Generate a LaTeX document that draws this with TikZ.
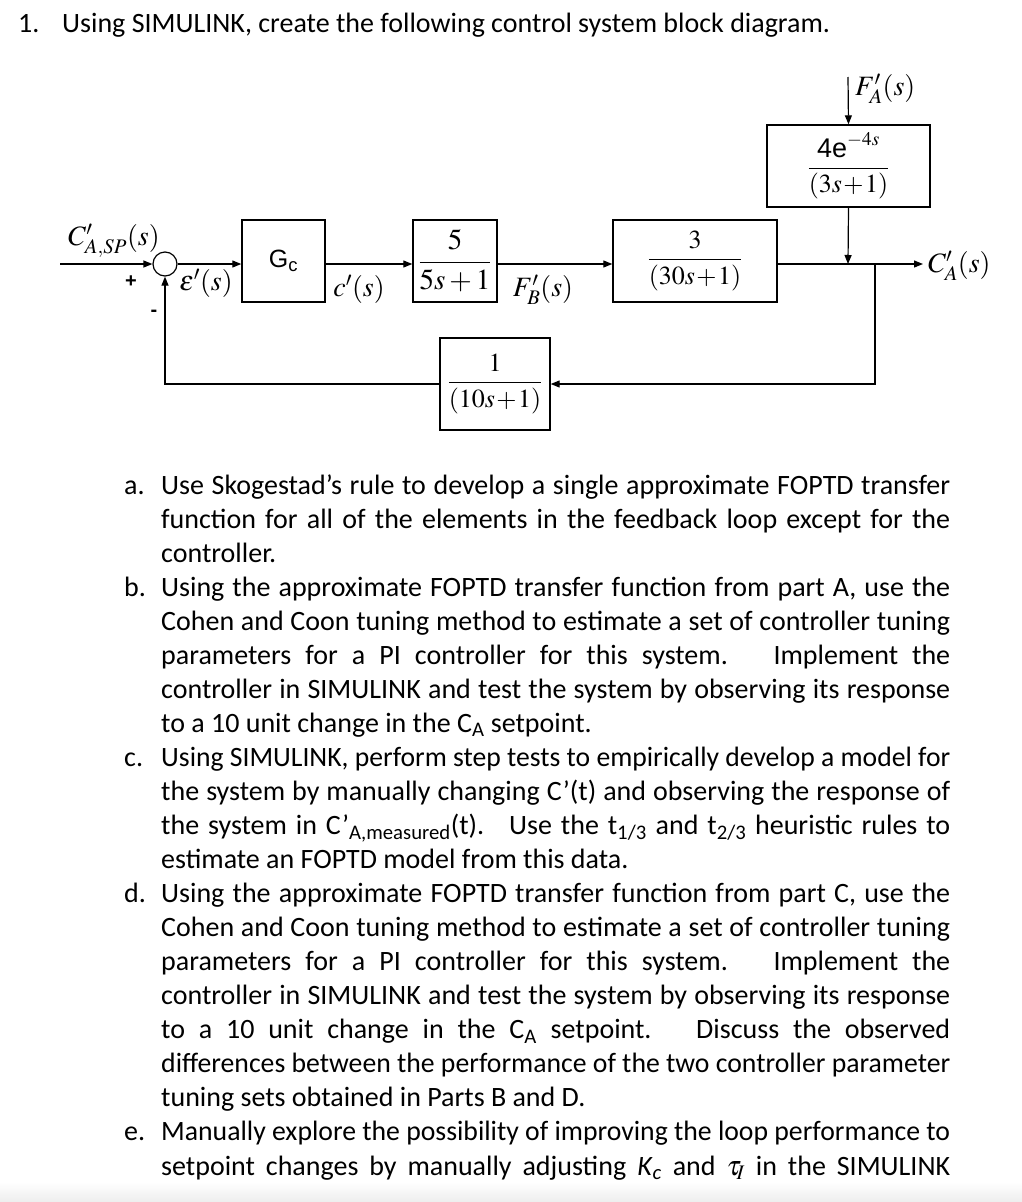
\documentclass[tikz,border=0pt]{standalone}
\usepackage{graphicx}
\usepackage{mathptmx}
\usepackage[no-math]{fontspec}
\setmainfont{Carlito}
\newfontfamily\arialf{Liberation Sans}
\usetikzlibrary{arrows.meta,calc}
\newsavebox\lnbox
\newcommand\jline[1]{\sbox\lnbox{#1}\ifdim\wd\lnbox>789pt\relax\resizebox{789pt}{\height}{\usebox\lnbox}\else\makebox[789pt][s]{#1}\fi}
\newcommand\nline[1]{\sbox\lnbox{#1}\ifdim\wd\lnbox>789pt\relax\resizebox{789pt}{\height}{\usebox\lnbox}\else\usebox\lnbox\fi}
\newcommand\blkfrac[2]{\fontsize{26}{30}\selectfont$\medmuskip=1mu\relax\displaystyle\frac{#1}{#2}$}
\begin{document}
\begin{tikzpicture}[x=1pt,y=-1pt,
  blk/.style={draw, line width=1.4pt, inner sep=0pt, font=\fontsize{29}{33}\selectfont},
  wire/.style={line width=1.2pt},
  arr/.style={wire, -{Triangle[length=9pt,width=7pt]}},
  lbl/.style={inner sep=0pt, font=\fontsize{28}{32}\selectfont},
  sgn/.style={inner sep=0pt, font=\arialf\bfseries\fontsize{20}{24}\selectfont},
  txt/.style={inner sep=0pt, anchor=base west, font=\fontsize{28}{34}\selectfont}]
\useasboundingbox (0,0) rectangle (1022,1202);
\shade[top color=white, bottom color=black!7] (0,1182) rectangle (1022,1202);

% ---- blocks
\node[draw, circle, line width=1.2pt, minimum size=24pt, inner sep=0pt] (sum) at (165,264) {};
\node[blk, minimum width=83pt, minimum height=82pt] (gc) at (283.5,261) {\arialf\fontsize{25}{28}\selectfont G\textsubscript{c}};
\node[blk, minimum width=84pt, minimum height=82pt] (g1) at (455,261) {$\displaystyle\frac{5}{5s+1}$};
\node[blk, minimum width=164pt, minimum height=82pt] (g2) at (695,261) {\blkfrac{3}{(30s+1)}};
\node[blk, minimum width=163pt, minimum height=82pt] (d) at (848.5,166) {\blkfrac{\mbox{\arialf\fontsize{27}{30}\selectfont 4e}^{-4s}}{(3s+1)}};
\node[blk, minimum width=110pt, minimum height=92pt] (h) at (495,384) {\blkfrac{1}{(10s+1)}};

% ---- labels
\node[lbl] (sp) at (114,241) {$C'_{A,SP}(s)$};
\node[lbl] (eps) at (206,283) {$\varepsilon'(s)$};
\node[lbl] (cl) at (359,289) {$c'(s)$};
\node[lbl] (fb) at (543,290) {$F'_B(s)$};
\node[lbl, anchor=west] (fa) at (855,89) {$F'_A(s)$};
\node[lbl, anchor=west] (ca) at (928,266) {$C'_A(s)$};
\node[sgn] (plus) at (131,282) {+};
\node[sgn] (minus) at (154,313) {-};

% ---- connectors
\coordinate (in) at (60,264);
\coordinate (j1) at (848,264);
\coordinate (j2) at (875,264);
\coordinate (out) at (923,264);
\coordinate (fin) at (848,77);
\draw[arr] (in) -- (sum.west);
\draw[arr] (sum.east) -- (sum.east -| gc.west);
\draw[arr] (gc.east |- sum) -- (g1.west |- sum);
\draw[arr] (g1.east |- sum) -- (g2.west |- sum);
\draw[arr] (g2.east |- sum) -- (out);
\draw[arr] (fin) -- (d.north);
\draw[arr] (d.south) -- (j1);
\draw[arr] (j2) -- (j2 |- h.east) -- (h.east);
\draw[arr] (h.west) -- (h.west -| sum) -- (sum.south);

% ---- text
\node[txt] (t1n) at (18,32) {1.};
\node[txt] (t1) at (62,32) {Using SIMULINK, create the following control system block diagram.};

\node[txt] (la) at (124,494) {a.};
\node[txt] (a1) at (161,494) {\jline{Use Skogestad’s rule to develop a single approximate FOPTD transfer}};
\node[txt] (a2) at (161,528.05) {\jline{function for all of the elements in the feedback loop except for the}};
\node[txt] (a3) at (161,562.1) {\nline{controller.}};

\node[txt] (lb) at (124,596.15) {b.};
\node[txt] (b1) at (161,596.15) {\jline{Using the approximate FOPTD transfer function from part A, use the}};
\node[txt] (b2) at (161,630.2) {\jline{Cohen and Coon tuning method to estimate a set of controller tuning}};
\node[txt] (b3) at (161,664.25) {\jline{parameters for a PI controller for this system.~ Implement the}};
\node[txt] (b4) at (161,698.3) {\jline{controller in SIMULINK and test the system by observing its response}};
\node[txt] (b5) at (161,732.35) {\nline{to a 10 unit change in the C\textsubscript{A} setpoint.}};

\node[txt] (lc) at (124,766.4) {c.};
\node[txt] (c1) at (161,766.4) {\jline{Using SIMULINK, perform step tests to empirically develop a model for}};
\node[txt] (c2) at (161,800.45) {\jline{the system by manually changing C’(t) and observing the response of}};
\node[txt] (c3) at (161,834.5) {\jline{the system in C’\textsubscript{A,measured}(t).~ Use the t\textsubscript{1/3} and t\textsubscript{2/3} heuristic rules to}};
\node[txt] (c4) at (161,868.55) {\nline{estimate an FOPTD model from this data.}};

\node[txt] (ld) at (124,902.6) {d.};
\node[txt] (d1) at (161,902.6) {\jline{Using the approximate FOPTD transfer function from part C, use the}};
\node[txt] (d2) at (161,936.65) {\jline{Cohen and Coon tuning method to estimate a set of controller tuning}};
\node[txt] (d3) at (161,970.7) {\jline{parameters for a PI controller for this system.~ Implement the}};
\node[txt] (d4) at (161,1004.75) {\jline{controller in SIMULINK and test the system by observing its response}};
\node[txt] (d5) at (161,1038.8) {\jline{to a 10 unit change in the C\textsubscript{A} setpoint.~ Discuss the observed}};
\node[txt] (d6) at (161,1072.85) {\jline{differences between the performance of the two controller parameter}};
\node[txt] (d7) at (161,1106.9) {\nline{tuning sets obtained in Parts B and D.}};

\node[txt] (le) at (124,1140.95) {e.};
\node[txt] (e1) at (161,1140.95) {\jline{Manually explore the possibility of improving the loop performance to}};
\node[txt] (e2) at (161,1175) {\jline{setpoint changes by manually adjusting \textit{K}\textsubscript{\textit{c}} and $\tau_{\!I}$ in the SIMULINK}};
\end{tikzpicture}
\end{document}
